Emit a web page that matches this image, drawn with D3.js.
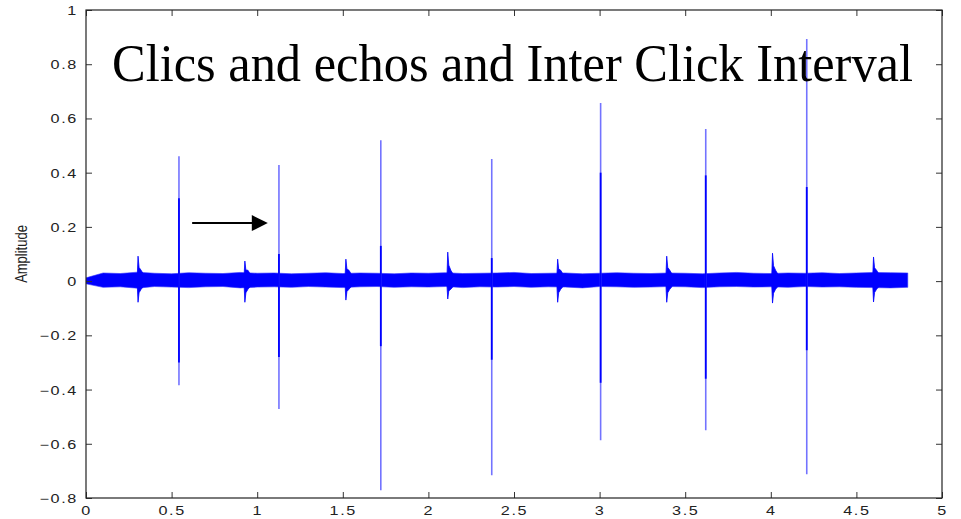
<!DOCTYPE html>
<html>
<head>
<meta charset="utf-8">
<script src="https://cdn.jsdelivr.net/npm/d3@7"></script>
<style>
  body { margin: 0; background: #fff; }
  svg { display: block; }
</style>
</head>
<body>
<svg id="chart" width="961" height="519"></svg>
<script>
// x / y tick values
const xTicks = [0, 0.5, 1, 1.5, 2, 2.5, 3, 3.5, 4, 4.5, 5];
const yTicks = [-0.8, -0.6, -0.4, -0.2, 0, 0.2, 0.4, 0.6, 0.8, 1];

// main clicks: time (s), peak up, peak down, inner (dense) up, inner down
const clickTimes = [0.543, 1.127, 1.722, 2.37, 3.006, 3.62, 4.21];
const clickMax = [0.461, 0.428, 0.52, 0.45, 0.657, 0.561, 0.893];
const clickMin = [-0.384, -0.472, -0.771, -0.716, -0.587, -0.55, -0.712];
const clickInnerMax = [0.306, 0.10, 0.13, 0.085, 0.40, 0.39, 0.347];
const clickInnerMin = [-0.30, -0.28, -0.24, -0.29, -0.375, -0.36, -0.255];

// echoes between the clicks
const echoTimes = [0.304, 0.928, 1.518, 2.113, 2.755, 3.392, 4.01, 4.60];
const echoMax = [0.092, 0.074, 0.081, 0.107, 0.081, 0.092, 0.103, 0.089];
const echoMin = [-0.078, -0.078, -0.07, -0.066, -0.078, -0.078, -0.081, -0.077];

// background noise envelope, read every 0.1 s
const noiseTimes = d3.range(0, 49).map(i => i / 10);
const noiseUpper = [0.012, 0.030, 0.028, 0.033, 0.029, 0.027, 0.031, 0.029, 0.028, 0.032,
  0.029, 0.030, 0.027, 0.029, 0.031, 0.028, 0.030, 0.029, 0.027, 0.030,
  0.029, 0.031, 0.028, 0.029, 0.030, 0.032, 0.028, 0.029, 0.030, 0.027,
  0.029, 0.031, 0.029, 0.028, 0.030, 0.029, 0.027, 0.030, 0.032, 0.029,
  0.028, 0.030, 0.029, 0.031, 0.028, 0.030, 0.032, 0.031, 0.030];
const noiseLower = [-0.010, -0.023, -0.021, -0.026, -0.020, -0.022, -0.024, -0.021, -0.020, -0.025,
  -0.022, -0.021, -0.023, -0.020, -0.022, -0.024, -0.021, -0.020, -0.023, -0.021,
  -0.022, -0.020, -0.024, -0.021, -0.022, -0.020, -0.023, -0.021, -0.022, -0.025,
  -0.020, -0.021, -0.023, -0.022, -0.020, -0.021, -0.024, -0.021, -0.020, -0.022,
  -0.021, -0.023, -0.020, -0.022, -0.021, -0.023, -0.024, -0.025, -0.023];

const titleText = "Clics and echos and Inter Click Interval";
const arrowFrom = [0.62, 0.214];
const arrowTo = [1.062, 0.214];

const margin = {top: 10, right: 19, bottom: 21, left: 86};
const width = 961 - margin.left - margin.right;
const height = 519 - margin.top - margin.bottom;

const svg = d3.select("#chart");
const g = svg.append("g").attr("transform", `translate(${margin.left},${margin.top})`);

const x = d3.scaleLinear().domain([0, 5]).range([0, width]);
const y = d3.scaleLinear().domain([-0.8, 1]).range([height, 0]);

const blue = "#0000ff";
const fmt = d => String(+d.toFixed(2)).replace("-", "\u2212");

g.append("clipPath").attr("id", "clip")
  .append("rect").attr("width", width).attr("height", height);
const plot = g.append("g").attr("clip-path", "url(#clip)");

// noise band
const noise = noiseTimes.map((t, i) => ({t, hi: noiseUpper[i], lo: noiseLower[i]}));
plot.append("path")
  .datum(noise)
  .attr("fill", blue)
  .attr("stroke", "#3030ff")
  .attr("stroke-width", 0.6)
  .attr("d", d3.area().x(d => x(d.t)).y0(d => y(d.lo)).y1(d => y(d.hi)));

// echoes: sharp onset, quick decay
const echoArea = d3.area().x(d => x(d.t)).y0(d => y(d.lo)).y1(d => y(d.hi));
echoTimes.forEach((t, i) => {
  const pts = [
    {t: t - 0.004, hi: 0.027, lo: -0.021},
    {t: t, hi: echoMax[i], lo: echoMin[i]},
    {t: t + 0.006, hi: echoMax[i] * 0.55, lo: echoMin[i] * 0.55},
    {t: t + 0.018, hi: 0.04, lo: -0.03},
    {t: t + 0.03, hi: 0.027, lo: -0.021}
  ];
  plot.append("path")
    .datum(pts)
    .attr("fill", blue)
    .attr("stroke", blue)
    .attr("stroke-width", 0.8)
    .attr("d", echoArea);
});

// clicks: thin outer peak plus dense inner part
const clicks = clickTimes.map((t, i) => ({
  t, max: clickMax[i], min: clickMin[i], imax: clickInnerMax[i], imin: clickInnerMin[i]
}));
plot.selectAll(".click-outer")
  .data(clicks)
  .enter().append("line")
  .attr("class", "click-outer")
  .attr("x1", d => x(d.t)).attr("x2", d => x(d.t))
  .attr("y1", d => y(d.max)).attr("y2", d => y(d.min))
  .attr("stroke", "#7373ff")
  .attr("stroke-width", 1.6);
plot.selectAll(".click-inner")
  .data(clicks)
  .enter().append("line")
  .attr("class", "click-inner")
  .attr("x1", d => x(d.t)).attr("x2", d => x(d.t))
  .attr("y1", d => y(d.imax)).attr("y2", d => y(d.imin))
  .attr("stroke", blue)
  .attr("stroke-width", 1.8);

// axes, matlab style: ticks inside, box all round
function styleAxis(sel, labels, shiftX, shiftY, anchor) {
  sel.select(".domain").remove();
  sel.selectAll("line").attr("stroke", "#333");
  if (!labels) {
    sel.selectAll("text").remove();
    return;
  }
  sel.selectAll("text")
    .attr("x", 0).attr("y", 0).attr("dy", null)
    .attr("text-anchor", anchor)
    .attr("transform", `translate(${shiftX},${shiftY}) scale(1.35,1)`)
    .attr("font-family", "Liberation Sans, Arial, sans-serif")
    .attr("font-size", 12)
    .attr("letter-spacing", "1.2px")
    .attr("fill", "#222");
}

g.append("g").attr("transform", `translate(0,${height})`)
  .call(d3.axisBottom(x).tickValues(xTicks).tickSize(-6).tickFormat(fmt))
  .call(s => styleAxis(s, true, 0, 17, "middle"));
g.append("g")
  .call(d3.axisTop(x).tickValues(xTicks).tickSize(-6))
  .call(s => styleAxis(s, false));
g.append("g")
  .call(d3.axisLeft(y).tickValues(yTicks).tickSize(-6).tickFormat(fmt))
  .call(s => styleAxis(s, true, -8, 4.5, "end"));
g.append("g").attr("transform", `translate(${width},0)`)
  .call(d3.axisRight(y).tickValues(yTicks).tickSize(-6))
  .call(s => styleAxis(s, false));

g.append("rect")
  .attr("width", width).attr("height", height)
  .attr("fill", "none")
  .attr("stroke", "#222")
  .attr("stroke-width", 1.2);

// y label
svg.append("text")
  .attr("transform", `translate(27,${margin.top + y(0.1)}) rotate(-90) scale(1,1.2)`)
  .attr("text-anchor", "middle")
  .attr("font-family", "Liberation Sans, Arial, sans-serif")
  .attr("font-size", 13)
  .attr("fill", "#222")
  .text("Amplitude");

// title inside plot
svg.append("text")
  .attr("x", 112)
  .attr("y", 81)
  .attr("font-family", "Liberation Serif, Times New Roman, serif")
  .attr("font-size", 52)
  .attr("textLength", 801)
  .attr("lengthAdjust", "spacingAndGlyphs")
  .attr("fill", "#000")
  .text(titleText);

// arrow between two clicks
const ax1 = x(arrowFrom[0]), ay = y(arrowFrom[1]), ax2 = x(arrowTo[0]);
g.append("line")
  .attr("x1", ax1).attr("x2", ax2 - 10)
  .attr("y1", ay).attr("y2", ay)
  .attr("stroke", "#000")
  .attr("stroke-width", 2);
g.append("path")
  .attr("d", `M${ax2},${ay} L${ax2 - 16},${ay - 8} L${ax2 - 16},${ay + 8} Z`)
  .attr("fill", "#000");
</script>
</body>
</html>
